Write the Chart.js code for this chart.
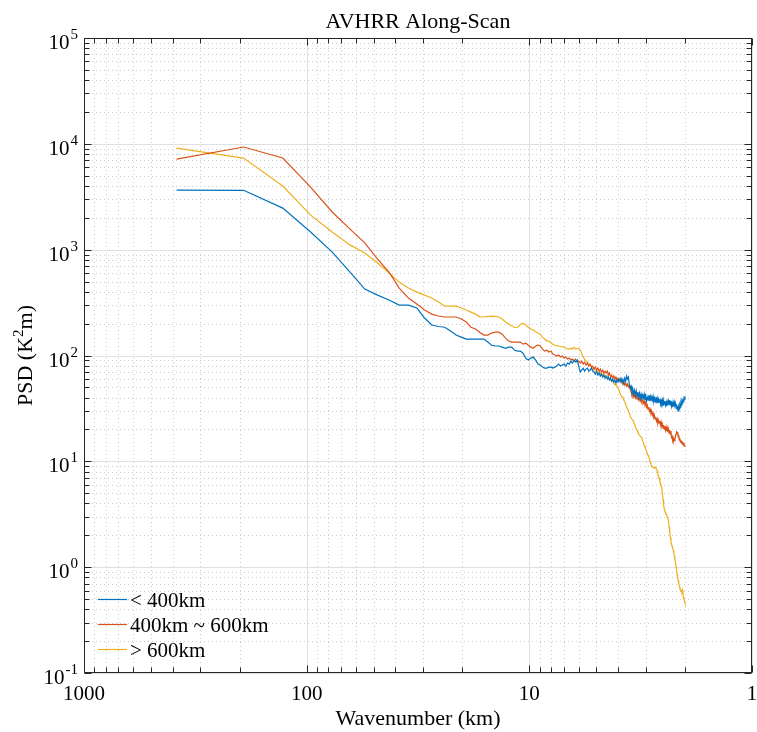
<!DOCTYPE html>
<html>
<head>
<meta charset="utf-8">
<script src="https://cdn.jsdelivr.net/npm/chart.js@4.4.1/dist/chart.umd.min.js"></script>
<style>
  html, body { margin: 0; padding: 0; background: #ffffff; }
  #wrap { width: 757px; height: 732px; }
</style>
</head>
<body>
<div id="wrap"><canvas id="c" width="757" height="732"></canvas></div>
<script>
// ---------------- DATA ----------------
const chartTitle = 'AVHRR Along-Scan';
const xTitle = 'Wavenumber (km)';
const seriesNames = ['< 400km', '400km ~ 600km', '> 600km'];
const seriesColors = ['#0072BD', '#D95319', '#EDB120'];

// wavelength (km) of each spectral estimate
const wavelengthKm = [
  384, 192, 128, 96, 76.8, 64, 54.86, 48, 42.67, 38.4,
  34.91, 32, 29.54, 27.43, 25.6, 24, 22.59, 21.33, 20.21, 19.2,
  18.29, 17.45, 16.7, 16, 15.36, 14.77, 14.22, 13.71, 13.24, 12.8,
  12.39, 12, 11.64, 11.29, 10.97, 10.67, 10.38, 10.11, 9.846, 9.6,
  9.366, 9.143, 8.93, 8.727, 8.533, 8.348, 8.17, 8, 7.837, 7.68,
  7.529, 7.385, 7.245, 7.111, 6.982, 6.857, 6.737, 6.621, 6.508, 6.4,
  6.295, 6.194, 6.095, 6, 5.908, 5.818, 5.731, 5.647, 5.565, 5.486,
  5.408, 5.333, 5.26, 5.189, 5.12, 5.053, 4.987, 4.923, 4.861, 4.8,
  4.741, 4.683, 4.627, 4.571, 4.518, 4.465, 4.414, 4.364, 4.315, 4.267,
  4.22, 4.174, 4.129, 4.085, 4.042, 4, 3.959, 3.918, 3.879, 3.84,
  3.802, 3.765, 3.728, 3.692, 3.657, 3.623, 3.589, 3.556, 3.523, 3.491,
  3.459, 3.429, 3.398, 3.368, 3.339, 3.31, 3.282, 3.254, 3.227, 3.2,
  3.174, 3.148, 3.122, 3.097, 3.072, 3.048, 3.024, 3, 2.977, 2.954,
  2.931, 2.909, 2.887, 2.866, 2.844, 2.824, 2.803, 2.783, 2.763, 2.743,
  2.723, 2.704, 2.685, 2.667, 2.648, 2.63, 2.612, 2.595, 2.577, 2.56,
  2.543, 2.526, 2.51, 2.494, 2.477, 2.462, 2.446, 2.43, 2.415, 2.4,
  2.385, 2.37, 2.356, 2.341, 2.327, 2.313, 2.299, 2.286, 2.272, 2.259,
  2.246, 2.233, 2.22, 2.207, 2.194, 2.182, 2.169, 2.157, 2.145, 2.133,
  2.122, 2.11, 2.098, 2.087, 2.076, 2.065, 2.053, 2.043, 2.032, 2.021,
  2.01, 2
];

// PSD, < 400km
const psdBelow400 = [
  3650, 3640, 2470, 1470, 949, 618, 424, 372, 334, 299,
  299, 281, 226, 194, 188, 185, 170, 156, 149, 143,
  143, 143, 143, 143, 134, 125, 123, 123, 120, 117,
  120, 120, 112, 110, 110, 105, 94.5, 90.5, 94.5, 96.6,
  90.5, 82.9, 81.2, 77.7, 76.0, 76.0, 77.7, 77.7, 76.0, 77.7,
  79.4, 82.9, 79.4, 81.2, 82.9, 79.4, 84.8, 82.9, 88.5, 84.8,
  90.5, 86.6, 90.5, 79.4, 69.7, 72.8, 76.0, 71.2, 74.4, 76.0,
  71.2, 72.8, 76.0, 71.2, 69.7, 66.7, 71.2, 65.3, 68.2, 63.9,
  66.7, 62.5, 65.3, 61.1, 63.9, 59.8, 62.5, 58.6, 61.1, 57.3,
  59.8, 56.1, 58.6, 54.8, 58.6, 56.1, 59.8, 57.3, 61.1, 56.1,
  59.8, 54.8, 61.1, 57.3, 63.9, 59.8, 62.5, 53.7, 49.2, 51.4,
  45.1, 48.1, 43.2, 47.1, 42.2, 46.1, 41.3, 45.1, 40.4, 44.1,
  39.6, 43.2, 38.7, 42.2, 39.6, 43.2, 37.9, 41.3, 37.1, 40.4,
  37.9, 42.2, 38.7, 41.3, 37.1, 40.4, 37.9, 41.3, 37.1, 39.6,
  36.3, 40.4, 37.1, 39.6, 35.5, 38.7, 36.3, 38.7, 34.7, 37.9,
  35.5, 37.9, 34.0, 37.1, 34.7, 37.1, 34.0, 36.3, 33.2, 36.3,
  34.0, 37.1, 34.7, 37.9, 34.0, 37.1, 33.2, 35.5, 32.5, 35.5,
  33.2, 36.3, 34.0, 35.5, 31.8, 34.7, 31.1, 33.2, 29.8, 32.5,
  31.1, 34.0, 32.5, 35.5, 34.0, 37.1, 35.5, 37.9, 37.1, 39.6,
  38.7, 41.3
];

// PSD, 400km ~ 600km
const psd400to600 = [
  7180, 9330, 7340, 3900, 2270, 1570, 1160, 815, 614, 434,
  349, 306, 269, 246, 236, 231, 231, 231, 221, 207,
  185, 178, 166, 156, 156, 163, 166, 166, 159, 146,
  137, 134, 134, 134, 134, 128, 131, 125, 120, 117,
  123, 125, 123, 115, 110, 112, 108, 110, 103, 101,
  98.7, 101, 96.6, 98.7, 94.5, 96.6, 92.5, 94.5, 90.5, 92.5,
  88.5, 92.5, 86.6, 88.5, 84.8, 88.5, 82.9, 86.6, 81.2, 84.8,
  79.4, 82.9, 77.7, 79.4, 74.4, 77.7, 72.8, 76.0, 71.2, 74.4,
  69.7, 72.8, 68.2, 71.2, 68.2, 71.2, 65.3, 68.2, 62.5, 65.3,
  61.1, 63.9, 59.8, 62.5, 58.6, 61.1, 57.3, 59.8, 56.1, 58.6,
  53.7, 56.1, 52.5, 54.8, 51.4, 53.7, 50.3, 52.5, 48.1, 45.1,
  42.2, 44.1, 40.4, 42.2, 39.6, 41.3, 38.7, 40.4, 37.9, 39.6,
  37.1, 38.7, 36.3, 37.9, 35.5, 37.1, 34.0, 35.5, 32.5, 34.0,
  31.1, 32.5, 29.8, 31.1, 28.5, 29.8, 27.3, 28.5, 26.2, 27.3,
  25.1, 26.2, 24.0, 25.1, 23.0, 24.5, 23.0, 24.0, 22.0, 23.5,
  21.5, 22.5, 20.6, 22.0, 20.2, 21.5, 19.7, 21.1, 19.3, 20.6,
  18.9, 20.2, 18.5, 19.7, 18.1, 19.3, 16.9, 17.3, 15.9, 16.6,
  15.5, 16.2, 15.9, 17.3, 18.1, 19.3, 18.1, 18.9, 16.9, 17.7,
  15.9, 16.6, 15.2, 15.9, 14.9, 15.5, 14.5, 15.2, 14.2, 14.9,
  13.9, 14.2
];

// PSD, > 600km
const psdAbove600 = [
  9120, 7340, 3990, 2120, 1470, 1110, 929, 747, 601, 494,
  434, 397, 372, 349, 320, 293, 293, 293, 281, 269,
  257, 246, 232, 231, 234, 236, 234, 231, 221, 207,
  198, 190, 184, 185, 196, 202, 194, 185, 178, 174,
  168, 163, 159, 149, 143, 137, 137, 132, 128, 125,
  124, 123, 121, 121, 120, 117, 115, 115, 117, 115,
  120, 115, 117, 117, 112, 105, 96.6, 92.5, 88.5, 86.6,
  82.9, 81.2, 77.7, 76.0, 72.8, 71.2, 69.7, 69.7, 70.0, 68.2,
  65.0, 66.7, 66.5, 65.3, 62.3, 63.9, 61.1, 60.8, 58.6, 57.3,
  57.0, 54.8, 52.5, 53.7, 51.4, 49.2, 47.1, 44.1, 42.2, 40.4,
  40.4, 37.9, 36.3, 34.7, 32.5, 31.1, 29.8, 28.5, 26.7, 25.6,
  25.6, 24.5, 23.5, 22.5, 21.0, 20.2, 19.7, 18.9, 18.1, 17.7,
  17.3, 16.9, 16.6, 15.5, 14.9, 14.2, 13.6, 13.0, 12.5, 12.0,
  11.4, 11.0, 10.5, 9.83, 9.41, 9.01, 8.81, 8.81, 8.81, 8.62,
  8.81, 8.62, 8.44, 8.08, 7.57, 7.25, 6.94, 6.50, 6.22, 5.83,
  5.58, 5.01, 4.39, 3.85, 3.53, 3.38, 3.31, 3.17, 3.10, 2.97,
  2.90, 2.66, 2.39, 2.14, 1.92, 1.76, 1.65, 1.58, 1.51, 1.45,
  1.36, 1.27, 1.19, 1.11, 1.02, 0.937, 0.859, 0.804, 0.754, 0.706,
  0.661, 0.633, 0.620, 0.620, 0.593, 0.580, 0.606, 0.556, 0.521, 0.488,
  0.477, 0.457
];

const seriesValues = [psdBelow400, psd400to600, psdAbove600];

// axis ticks
const xMajorTicks = [1000, 100, 10, 1];
const xTickLabels = ['1000', '100', '10', '1'];
const yMajorTicks = [1e5, 1e4, 1e3, 1e2, 1e1, 1e0, 1e-1];
const yTickExponents = ['5', '4', '3', '2', '1', '0', '-1'];

// ---------------- STYLE / DRAWING ----------------
const FONT = '"Liberation Serif", "Times New Roman", Times, serif';
const AXIS_COLOR = '#262626';
const TEXT_COLOR = '#000000';

function minorTicksFor(majors) {
  const out = [];
  const sorted = majors.slice().sort((a, b) => a - b);
  for (let i = 0; i < sorted.length - 1; i++) {
    for (let m = 2; m <= 9; m++) out.push(sorted[i] * m);
  }
  return out;
}
const xMinor = minorTicksFor(xMajorTicks);
const yMinor = minorTicksFor(yMajorTicks);

const matlabAxes = {
  id: 'matlabAxes',
  beforeDatasetsDraw(chart) {
    const ctx = chart.ctx, ca = chart.chartArea;
    const xs = chart.scales.x, ys = chart.scales.y;
    ctx.save();
    // minor dotted grid
    ctx.strokeStyle = '#cdcdcd';
    ctx.lineWidth = 1;
    ctx.setLineDash([1, 3]);
    ctx.beginPath();
    xMinor.forEach(v => {
      const px = Math.round(xs.getPixelForValue(v)) + 0.5;
      ctx.moveTo(px, ca.top); ctx.lineTo(px, ca.bottom);
    });
    yMinor.forEach(v => {
      const py = Math.round(ys.getPixelForValue(v)) + 0.5;
      ctx.moveTo(ca.left, py); ctx.lineTo(ca.right, py);
    });
    ctx.stroke();
    // major solid grid
    ctx.setLineDash([]);
    ctx.strokeStyle = '#dfdfdf';
    ctx.beginPath();
    xMajorTicks.forEach(v => {
      const px = Math.round(xs.getPixelForValue(v)) + 0.5;
      ctx.moveTo(px, ca.top); ctx.lineTo(px, ca.bottom);
    });
    yMajorTicks.forEach(v => {
      const py = Math.round(ys.getPixelForValue(v)) + 0.5;
      ctx.moveTo(ca.left, py); ctx.lineTo(ca.right, py);
    });
    ctx.stroke();
    ctx.restore();
  },
  afterDatasetsDraw(chart) {
    const ctx = chart.ctx, ca = chart.chartArea;
    const xs = chart.scales.x, ys = chart.scales.y;
    const L = Math.round(ca.left) + 0.5, R = Math.round(ca.right) - 0.5;
    const T = Math.round(ca.top) + 0.5, B = Math.round(ca.bottom) - 0.5;
    ctx.save();
    // box
    ctx.strokeStyle = AXIS_COLOR;
    ctx.lineWidth = 1;
    ctx.strokeRect(L, T, R - L, B - T);
    // ticks (inward, all four sides)
    ctx.beginPath();
    const tickX = (v, len) => {
      const px = Math.round(xs.getPixelForValue(v)) + 0.5;
      ctx.moveTo(px, B); ctx.lineTo(px, B - len);
      ctx.moveTo(px, T); ctx.lineTo(px, T + len);
    };
    const tickY = (v, len) => {
      const py = Math.round(ys.getPixelForValue(v)) + 0.5;
      ctx.moveTo(L, py); ctx.lineTo(L + len, py);
      ctx.moveTo(R, py); ctx.lineTo(R - len, py);
    };
    xMajorTicks.forEach(v => tickX(v, 7));
    xMinor.forEach(v => tickX(v, 5));
    yMajorTicks.forEach(v => tickY(v, 7));
    yMinor.forEach(v => tickY(v, 5));
    ctx.stroke();

    ctx.fillStyle = TEXT_COLOR;
    // x tick labels
    ctx.font = '21px ' + FONT;
    ctx.textAlign = 'center';
    ctx.textBaseline = 'alphabetic';
    xMajorTicks.forEach((v, i) => {
      ctx.fillText(xTickLabels[i], xs.getPixelForValue(v), ca.bottom + 27);
    });
    // y tick labels with superscript exponent
    const labelRight = ca.left - 6;
    yMajorTicks.forEach((v, i) => {
      const py = ys.getPixelForValue(v);
      ctx.font = '15px ' + FONT;
      const ew = ctx.measureText(yTickExponents[i]).width;
      ctx.textAlign = 'left';
      ctx.fillText(yTickExponents[i], labelRight - ew, py + 1);
      ctx.font = '21px ' + FONT;
      ctx.textAlign = 'right';
      ctx.fillText('10', labelRight - ew - 1, py + 11);
    });
    // title
    ctx.font = '22px ' + FONT;
    ctx.textAlign = 'center';
    ctx.fillText(chartTitle, (ca.left + ca.right) / 2, ca.top - 10);
    // x title
    ctx.fillText(xTitle, (ca.left + ca.right) / 2, ca.bottom + 52);
    // y title: PSD (K^2 m), rotated
    ctx.save();
    ctx.translate(32, (ca.top + ca.bottom) / 2);
    ctx.rotate(-Math.PI / 2);
    const p1 = 'PSD (K', p2 = '2', p3 = 'm)';
    ctx.font = '22px ' + FONT;
    const w1 = ctx.measureText(p1).width, w3 = ctx.measureText(p3).width;
    ctx.font = '15px ' + FONT;
    const w2 = ctx.measureText(p2).width;
    let x0 = -(w1 + w2 + w3) / 2;
    ctx.textAlign = 'left';
    ctx.font = '22px ' + FONT;
    ctx.fillText(p1, x0, 0);
    ctx.font = '15px ' + FONT;
    ctx.fillText(p2, x0 + w1, -9);
    ctx.font = '22px ' + FONT;
    ctx.fillText(p3, x0 + w1 + w2, 0);
    ctx.restore();

    // legend (bottom-left inside axes, no box)
    ctx.font = '21px ' + FONT;
    ctx.textAlign = 'left';
    ctx.textBaseline = 'middle';
    seriesNames.forEach((name, i) => {
      const y = ca.bottom - 74 + i * 25;
      ctx.strokeStyle = seriesColors[i];
      ctx.lineWidth = 1.2;
      ctx.beginPath();
      ctx.moveTo(ca.left + 14, y + 0.5);
      ctx.lineTo(ca.left + 43, y + 0.5);
      ctx.stroke();
      ctx.fillStyle = TEXT_COLOR;
      ctx.fillText(name, ca.left + 46, y + 2);
    });
    ctx.restore();
  }
};

const datasets = seriesValues.map((vals, i) => ({
  label: seriesNames[i],
  data: vals.map((v, j) => ({ x: wavelengthKm[j], y: v })),
  borderColor: seriesColors[i],
  backgroundColor: seriesColors[i],
  borderWidth: 1.2,
  pointRadius: 0,
  tension: 0,
  fill: false
}));

new Chart(document.getElementById('c'), {
  type: 'line',
  data: { datasets },
  options: {
    responsive: false,
    animation: false,
    devicePixelRatio: 1,
    layout: { padding: { left: 84, right: 5, top: 38, bottom: 59 } },
    plugins: {
      legend: { display: false },
      title: { display: false },
      tooltip: { enabled: false }
    },
    scales: {
      x: {
        type: 'logarithmic',
        reverse: true,
        min: 1,
        max: 1000,
        display: false
      },
      y: {
        type: 'logarithmic',
        min: 0.1,
        max: 100000,
        display: false
      }
    }
  },
  plugins: [matlabAxes]
});
</script>
</body>
</html>
